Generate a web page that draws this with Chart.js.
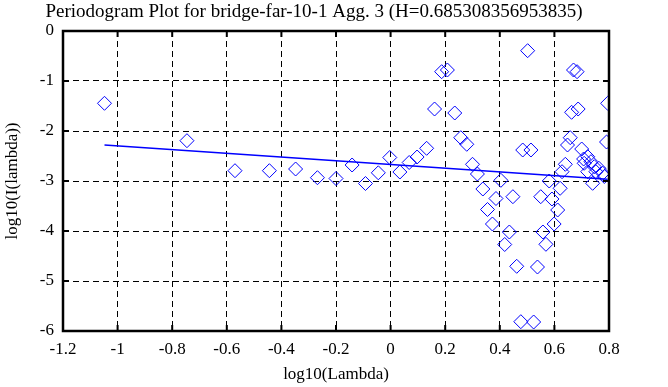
<!DOCTYPE html>
<html>
<head>
<meta charset="utf-8">
<script src="https://cdn.jsdelivr.net/npm/chart.js@4/dist/chart.umd.min.js"></script>
<style>
  html, body { margin: 0; padding: 0; background: #fff; }
  #wrap { width: 668px; height: 387px; position: relative; }
</style>
</head>
<body>
<div id="wrap"><canvas id="chart"></canvas></div>
<script>
// ---- periodogram scatter + fitted line ----
const TITLE = 'Periodogram Plot for bridge-far-10-1 Agg. 3 (H=0.685308356953835)';

// log10(lambda), log10(I(lambda))
const ptsX = [-1.048, -0.746, -0.570, -0.444, -0.348, -0.268, -0.200, -0.141, -0.092, -0.045,
  -0.003, 0.034, 0.068, 0.097, 0.132, 0.161, 0.187, 0.208, 0.235, 0.257,
  0.279, 0.300, 0.318, 0.338, 0.355, 0.373, 0.386, 0.404, 0.418, 0.435,
  0.448, 0.462, 0.477, 0.484, 0.502, 0.514, 0.524, 0.538, 0.550, 0.558,
  0.569, 0.581, 0.591, 0.599, 0.612, 0.621, 0.628, 0.640, 0.648, 0.658,
  0.663, 0.670, 0.683, 0.687, 0.700, 0.707, 0.709, 0.722, 0.722, 0.734,
  0.740, 0.746, 0.752, 0.763, 0.777, 0.783, 0.791, 0.795];
const ptsY = [-1.446, -2.194, -2.794, -2.794, -2.76, -2.934, -2.95, -2.68, -3.05, -2.836,
  -2.53, -2.82, -2.63, -2.52, -2.346, -1.56, -0.814, -0.78, -1.64, -2.134,
  -2.266, -2.666, -2.86, -3.16, -3.57, -3.86, -3.35, -2.986, -4.27, -4.02,
  -3.314, -4.706, -5.814, -2.38, -0.394, -2.38, -5.82, -4.72, -3.314, -4.02,
  -4.266, -3.0, -3.36, -3.86, -3.58, -3.146, -2.814, -2.666, -2.28, -2.134,
  -1.626, -0.78, -0.814, -1.56, -2.36, -2.56, -2.646, -2.514, -2.814, -2.614,
  -3.046, -2.714, -2.814, -2.746, -2.846, -2.91, -2.22, -1.446];

// least-squares fit, endpoints at data min/max x
const fitX = [-1.048, 0.795];
const fitY = [-2.280, -2.963];

const xTicks = [-1.2, -1, -0.8, -0.6, -0.4, -0.2, 0, 0.2, 0.4, 0.6, 0.8];
const yTicks = [0, -1, -2, -3, -4, -5, -6];

const SERIF = '"Liberation Serif", "DejaVu Serif", serif';
const BLUE = '#0000ff';

const frame = {
  id: 'frame',
  afterDraw(chart) {
    const { ctx, chartArea: a, scales } = chart;
    ctx.save();
    ctx.strokeStyle = '#000';
    ctx.lineWidth = 2.5;
    ctx.strokeRect(a.left, a.top, a.right - a.left, a.bottom - a.top);
    // small inward tick marks on all four sides
    ctx.lineWidth = 2;
    ctx.beginPath();
    xTicks.forEach(v => {
      const px = scales.x.getPixelForValue(v);
      ctx.moveTo(px, a.top); ctx.lineTo(px, a.top + 6);
      ctx.moveTo(px, a.bottom); ctx.lineTo(px, a.bottom - 6);
    });
    yTicks.forEach(v => {
      const py = scales.y.getPixelForValue(v);
      ctx.moveTo(a.left, py); ctx.lineTo(a.left + 6, py);
      ctx.moveTo(a.right, py); ctx.lineTo(a.right - 6, py);
    });
    ctx.stroke();
    // title
    ctx.fillStyle = '#000';
    ctx.font = '19px ' + SERIF;
    ctx.textAlign = 'center';
    ctx.textBaseline = 'middle';
    ctx.fillText(TITLE, 314, 12);
    ctx.restore();
  },
};

const tickFont = { family: SERIF, size: 17 };

new Chart(document.getElementById('chart').getContext('2d'), {
  type: 'scatter',
  data: {
    datasets: [
      {
        data: ptsX.map((x, i) => ({ x, y: ptsY[i] })),
        pointStyle: 'rectRot',
        pointRadius: 7,
        pointBorderWidth: 1,
        borderColor: BLUE,
        backgroundColor: 'rgba(0,0,0,0)',
      },
      {
        type: 'line',
        data: fitX.map((x, i) => ({ x, y: fitY[i] })),
        borderColor: BLUE,
        borderWidth: 1.5,
        pointRadius: 0,
        fill: false,
      },
    ],
  },
  plugins: [frame],
  options: {
    responsive: true,
    maintainAspectRatio: false,
    animation: false,
    layout: { padding: { top: 31, right: 59, bottom: 0, left: 0 } },
    plugins: { legend: { display: false }, tooltip: { enabled: false }, title: { display: false } },
    scales: {
      x: {
        type: 'linear', min: -1.2, max: 0.8,
        afterBuildTicks: s => { s.ticks = xTicks.map(value => ({ value })); },
        afterFit: s => { s.height = 56; },
        ticks: { color: '#000', font: tickFont, padding: 8, maxRotation: 0, autoSkip: false,
          callback: v => String(+v.toFixed(1)) },
        grid: { color: '#000', lineWidth: 1, drawTicks: false },
        border: { display: false, dash: [6, 4] },
        title: { display: true, text: 'log10(Lambda)', color: '#000', font: tickFont, padding: { top: 0, bottom: 2 } },
      },
      y: {
        type: 'linear', min: -6, max: 0,
        afterBuildTicks: s => { s.ticks = yTicks.map(value => ({ value })); },
        afterFit: s => { s.width = 63; },
        ticks: { color: '#000', font: tickFont, padding: 9, autoSkip: false },
        grid: { color: '#000', lineWidth: 1, drawTicks: false },
        border: { display: false, dash: [6, 4] },
        title: { display: true, text: 'log10(I(lambda))', color: '#000', font: tickFont, padding: { top: 2, bottom: 0 } },
      },
    },
  },
});
</script>
</body>
</html>
